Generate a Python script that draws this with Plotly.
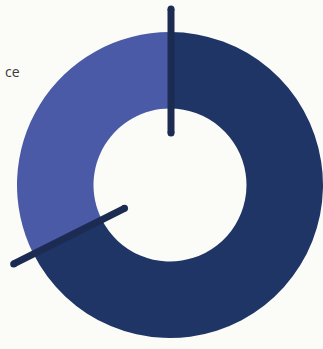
import math
import plotly.graph_objects as go

# Two-part share shown as a donut
labels = ["Main share", "Other share"]
values = [67.6, 32.4]
colors = ["#1f3566", "#4b5aa6"]
side_label = "ce"

W, H = 323, 349
cx, cy, R = 171, 185, 154       # donut centre and outer radius (px)
hole = 0.5
tick_in, tick_out = 52, 176     # radial extent of the divider ticks (px)
tick_color = "#1b2b52"
tick_w = 7

fig = go.Figure()
fig.add_trace(go.Pie(
    labels=labels, values=values, sort=False, direction="clockwise",
    rotation=0, hole=hole, textinfo="none", hoverinfo="label+percent",
    marker=dict(colors=colors, line=dict(width=0)),
    domain=dict(x=[(cx - R) / W, min(1.0, (cx + R) / W)],
                y=[(H - cy - R) / H, (H - cy + R) / H]),
    showlegend=False,
))

# divider ticks at each slice boundary, with rounded ends
total = sum(values)
shapes = []
acc = 0.0
for v in values:
    ang = math.radians(360.0 * acc / total)
    dx, dy = math.sin(ang), -math.cos(ang)
    x0, y0 = cx + dx * tick_in, cy + dy * tick_in
    x1, y1 = cx + dx * tick_out, cy + dy * tick_out
    shapes.append(dict(type="line", xref="x", yref="y", x0=x0, y0=y0, x1=x1, y1=y1,
                       line=dict(color=tick_color, width=tick_w), layer="above"))
    r = tick_w / 2
    for (px, py) in ((x0, y0), (x1, y1)):
        shapes.append(dict(type="circle", xref="x", yref="y",
                           x0=px - r, x1=px + r, y0=py - r, y1=py + r,
                           fillcolor=tick_color, line=dict(width=0), layer="above"))
    acc += v

fig.update_layout(
    width=W, height=H, margin=dict(l=0, r=0, t=0, b=0),
    paper_bgcolor="#fbfbf8", plot_bgcolor="rgba(0,0,0,0)",
    xaxis=dict(range=[0, W], visible=False, fixedrange=True),
    yaxis=dict(range=[H, 0], visible=False, fixedrange=True),
    shapes=shapes,
    annotations=[dict(text=side_label, xref="x", yref="y", x=3, y=71,
                      xanchor="left", yanchor="middle", showarrow=False,
                      font=dict(family="Open Sans", size=14, color="#3a3a3a"))],
)

fig.write_html("out.html")
